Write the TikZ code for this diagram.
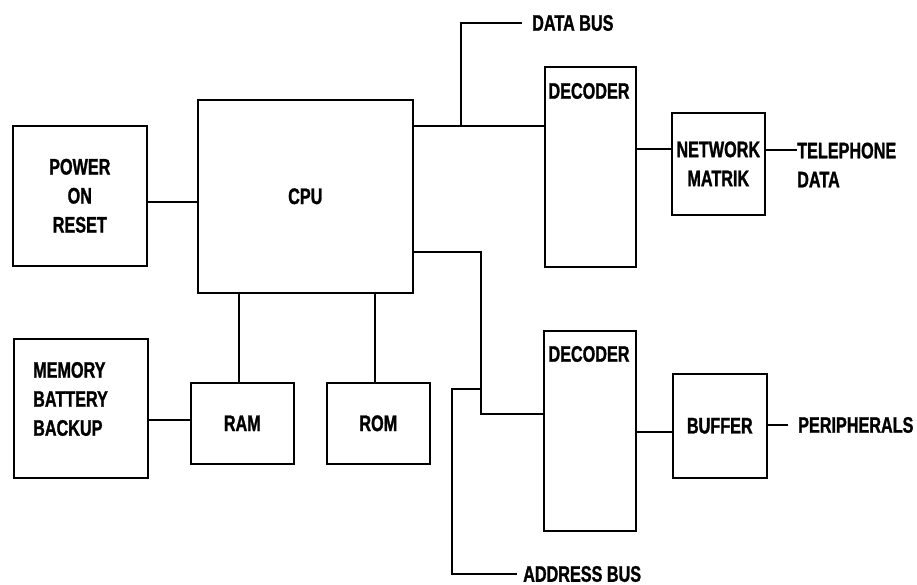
\documentclass[tikz,border=0pt]{standalone}
\usepackage{fontspec}
\newfontfamily\diafont[FakeStretch=0.72,FakeBold=1.2]{Liberation Sans}
\begin{document}
\begin{tikzpicture}[x=1pt,y=-1pt,
  every node/.style={font=\diafont\bfseries\fontsize{22.5}{29}\selectfont},
  box/.style={draw,line width=1.6pt,anchor=north west,inner sep=0pt,align=center},
  txt/.style={inner sep=0pt,align=left},
  wire/.style={line width=1.6pt}]
\useasboundingbox (0,0) rectangle (917,585);
% boxes
\node[box,minimum width=134pt,minimum height=140pt] (pwr) at (12,125) {POWER\\ON\\RESET};
\node[box,minimum width=215pt,minimum height=193pt] (cpu) at (197,99) {CPU};
\node[box,minimum width=134pt,minimum height=139pt] (mem) at (13,338) {};
\node[box,minimum width=103pt,minimum height=81pt] (ram) at (190,382) {RAM};
\node[box,minimum width=103pt,minimum height=81pt] (rom) at (326,382) {ROM};
\node[box,minimum width=91pt,minimum height=200pt] (dec1) at (544,66) {};
\node[box,minimum width=93pt,minimum height=102pt] (net) at (671,112) {NETWORK\\MATRIK};
\node[box,minimum width=92pt,minimum height=200pt] (dec2) at (543,330) {};
\node[box,minimum width=94pt,minimum height=104pt] (buf) at (672,373) {BUFFER};
% text labels
\node[txt,anchor=west] (memt) at (33,399) {MEMORY\\BATTERY\\BACKUP};
\node[txt] (dec1t) at (589,91) {DECODER};
\node[txt] (dec2t) at (589,354) {DECODER};
\node[txt,anchor=west] (dbus) at (532,23) {DATA BUS};
\node[txt,anchor=west] (tel) at (797,165) {TELEPHONE\\DATA};
\node[txt,anchor=west] (per) at (798,425) {PERIPHERALS};
\node[txt,anchor=west] (abus) at (523,574) {ADDRESS BUS};
% coordinates
\coordinate (dj) at (461,126);
\coordinate (dk) at (461,23);
\coordinate (de) at (522,23);
\coordinate (aj) at (481,252);
\coordinate (ak) at (481,414);
\coordinate (am) at (481,389);
\coordinate (an) at (452,389);
\coordinate (ao) at (452,574);
\coordinate (ae) at (517,574);
\coordinate (pe) at (788,425);
% connectors
\draw[wire] (pwr.east |- 0,202) -- (cpu.west |- 0,202);
\draw[wire] (cpu.east |- dj) -- (dec1.west |- dj);
\draw[wire] (dj) -- (dk) -- (de);
\draw[wire] (dec1.east |- 0,149) -- (net.west |- 0,149);
\draw[wire] (net.east |- 0,150) -- (tel.west |- 0,150);
\draw[wire] (cpu.east |- aj) -- (aj) -- (ak) -- (dec2.west |- ak);
\draw[wire] (am) -- (an) -- (ao) -- (ae);
\draw[wire] (dec2.east |- 0,432) -- (buf.west |- 0,432);
\draw[wire] (buf.east |- pe) -- (pe);
\draw[wire] (cpu.south -| 239,0) -- (ram.north -| 239,0);
\draw[wire] (cpu.south -| 375,0) -- (rom.north -| 375,0);
\draw[wire] (mem.east |- 0,420) -- (ram.west |- 0,420);
\end{tikzpicture}
\end{document}
